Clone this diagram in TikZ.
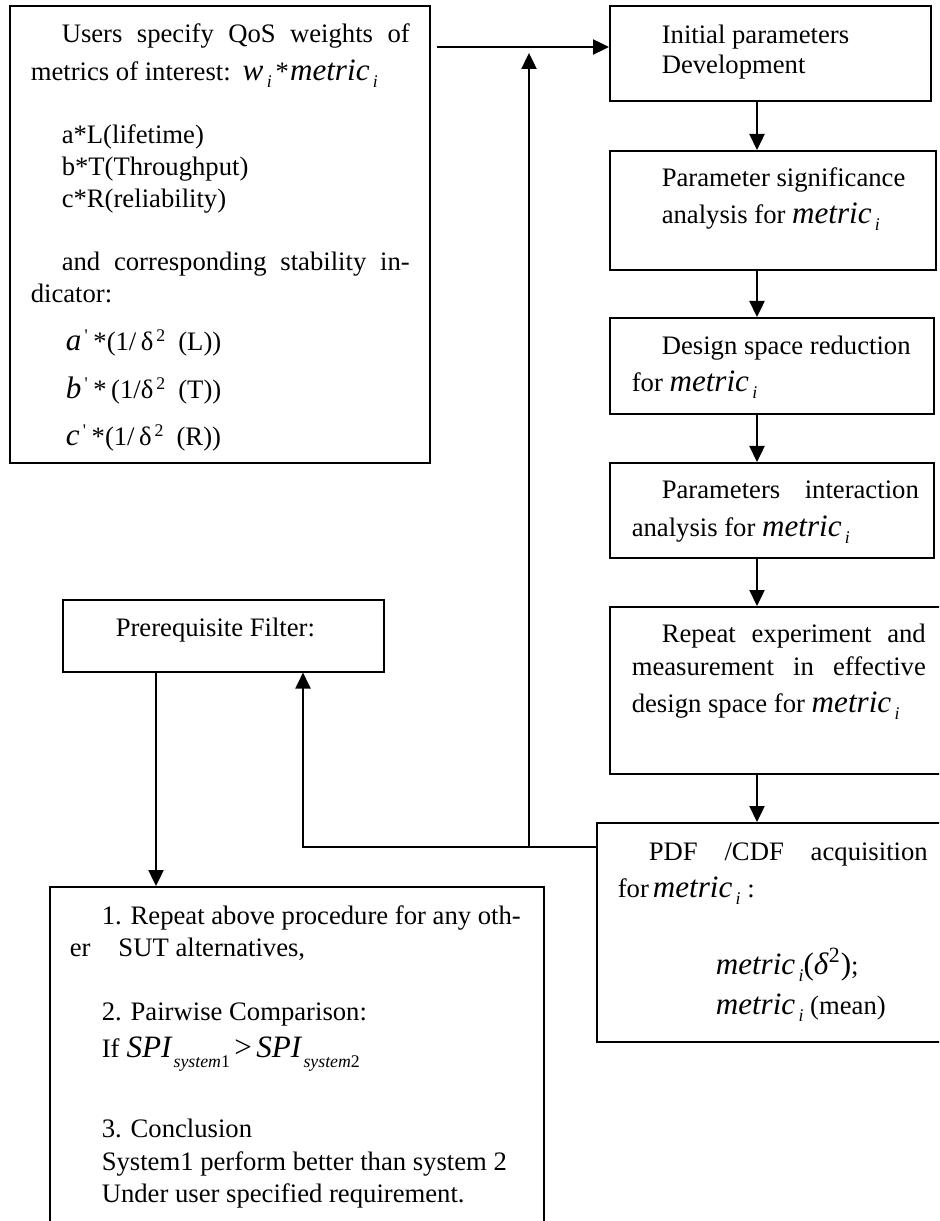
\documentclass[tikz,border=0pt]{standalone}
\usepackage{fontspec}
\setmainfont{Liberation Serif}
\usetikzlibrary{arrows.meta}

\newlength{\pxu}\setlength{\pxu}{0.45pt}
\newcommand{\mathsz}{\fontsize{14}{14}\selectfont\itshape}
\newcommand{\lowsub}[1]{\kern1.5pt\raisebox{-3.2pt}{\fontsize{8}{8}\selectfont\itshape #1}}
\newcommand{\metri}{{\mathsz metric}\lowsub{i}}
\newcommand{\prm}{\kern1.5pt\textsuperscript{\textquotesingle}}
\newcommand{\spi}[2]{{\mathsz SPI}\kern1pt\raisebox{-4.5pt}{\fontsize{8}{8}\selectfont\itshape #1\upshape #2}}
% first line: normal word spaces and a strut for the top margin
\newcommand{\topline}[1]{\spaceskip=0pt\xspaceskip=0pt\rule{0pt}{#1}}
\newcommand{\botline}[1]{\rule[-#1]{0pt}{#1}}

\tikzset{
  procbox/.style={draw, line width=0.7pt, anchor=north west, inner sep=0pt,
    align=left, font=\fontsize{12}{14.4}\selectfont},
  flow/.style={line width=0.9pt, -{Triangle[length=7.2pt, width=6.8pt]}},
  feed/.style={line width=0.75pt, -{Triangle[length=7.2pt, width=6.8pt]}}
}

\begin{document}
\begin{tikzpicture}[x=0.45pt, y=-0.45pt]
  \useasboundingbox (0,0) rectangle (939,1221);
  \clip (0,0) rectangle (939,1221);

  % user requirements
  \node[procbox, text width=420\pxu] (boxqos) at (9,5) {%
    \topline{37\pxu}\hspace*{52\pxu}\makebox[348\pxu][s]{Users specify QoS weights of}\\[6\pxu]
    \hspace*{21\pxu}metrics of interest:\hspace{12\pxu}{\mathsz w}\lowsub{i}\hspace{4\pxu}*\hspace{1\pxu}\metri\\[31\pxu]
    \hspace*{52\pxu}a*L(lifetime)\\
    \hspace*{52\pxu}b*T(Throughput)\\
    \hspace*{52\pxu}c*R(reliability)\\[31\pxu]
    \hspace*{52\pxu}\makebox[348\pxu][s]{and corresponding stability in-}\\
    \hspace*{21\pxu}dicator:\\[16\pxu]
    \hspace*{56\pxu}{\mathsz a}\prm\,*(1/\,δ\textsuperscript{\,2}\hspace{12\pxu}(L))\\[16\pxu]
    \hspace*{56\pxu}{\mathsz b}\prm\,*\,(1/δ\textsuperscript{\,2}\hspace{12\pxu}(T))\\[15\pxu]
    \hspace*{56\pxu}{\mathsz c}\prm\,*(1/\,δ\textsuperscript{\,2}\hspace{12\pxu}(R))\botline{17\pxu}};

  % right column
  \node[procbox, text width=321\pxu] (boxinit) at (609,5) {%
    \topline{38\pxu}\hspace*{52\pxu}Initial parameters\\[-2\pxu]
    \hspace*{52\pxu}Development\botline{27\pxu}};
  \node[procbox, text width=326\pxu] (boxsig) at (609,150) {%
    \topline{36\pxu}\hspace*{52\pxu}Parameter significance\\[5\pxu]
    \hspace*{52\pxu}analysis for \metri\botline{46\pxu}};
  \node[procbox, text width=324\pxu] (boxred) at (609,317) {%
    \topline{37\pxu}\hspace*{52\pxu}Design space reduction\\[5\pxu]
    \hspace*{22\pxu}for \metri\botline{22\pxu}};
  \node[procbox, text width=324\pxu] (boxint) at (609,462) {%
    \topline{36\pxu}\hspace*{52\pxu}\makebox[257\pxu][s]{Parameters interaction}\\[6\pxu]
    \hspace*{22\pxu}analysis for \metri\botline{21\pxu}};
  \node[procbox, text width=351\pxu] (boxrep) at (609,606) {%
    \topline{36\pxu}\hspace*{52\pxu}\makebox[264\pxu][s]{Repeat experiment and}\\[1\pxu]
    \hspace*{22\pxu}\makebox[294\pxu][s]{measurement in effective}\\[5\pxu]
    \hspace*{22\pxu}design space for \metri\botline{61\pxu}};
  \node[procbox, text width=364\pxu] (boxpdf) at (596,822) {%
    \topline{38\pxu}\hspace*{52\pxu}\makebox[279\pxu][s]{PDF /CDF acquisition}\\[5\pxu]
    \hspace*{21\pxu}for\hspace{4\pxu}\metri\ :\\[41\pxu]
    \hspace*{119\pxu}\metri{\fontsize{14}{14}\selectfont(\textit{δ}\textsuperscript{2})};\\[8\pxu]
    \hspace*{119\pxu}\metri\ (mean)\botline{28\pxu}};

  % left bottom
  \node[procbox, text width=321\pxu] (boxpre) at (62,599) {%
    \topline{37\pxu}\hspace*{53\pxu}Prerequisite Filter:\botline{35\pxu}};
  \node[procbox, text width=494\pxu] (boxsum) at (49,886) {%
    \topline{38\pxu}\hspace*{52\pxu}\makebox[419\pxu][s]{1. Repeat above procedure for any oth-}\\
    \hspace*{20\pxu}er\hspace{28\pxu}SUT alternatives,\\[32\pxu]
    \hspace*{52\pxu}2. Pairwise Comparison:\\[5\pxu]
    \hspace*{52\pxu}If\hspace{7\pxu}\spi{system}{1}\,{\fontsize{14}{14}\selectfont >}\,\spi{system}{2}\\[45\pxu]
    \hspace*{52\pxu}3. Conclusion\\[1\pxu]
    \hspace*{52\pxu}System1 perform better than system 2\\
    \hspace*{52\pxu}Under user specified requirement.\botline{47\pxu}};

  \coordinate (topy) at (0,47);
  \coordinate (colx) at (757,0);
  \coordinate (upx) at (529,0);
  \coordinate (fby) at (0,847);
  \coordinate (fbx) at (303,0);
  \coordinate (downx) at (156,0);

  \draw[flow, shorten <=2.7pt] (boxqos.east |- topy) -- (boxinit.west |- topy);
  \draw[flow] (boxinit.south -| colx) -- (boxsig.north -| colx);
  \draw[flow] (boxsig.south -| colx) -- (boxred.north -| colx);
  \draw[flow] (boxred.south -| colx) -- (boxint.north -| colx);
  \draw[flow] (boxint.south -| colx) -- (boxrep.north -| colx);
  \draw[flow] (boxrep.south -| colx) -- (boxpdf.north -| colx);

  % feedback to the filter and to the start
  \draw[feed] (boxpdf.west |- fby) -- (fbx |- fby) -- (fbx |- boxpre.south);
  \draw[flow, shorten >=2.7pt] (upx |- fby) -- (upx |- topy);
  \draw[flow] (boxpre.south -| downx) -- (boxsum.north -| downx);
\end{tikzpicture}
\end{document}
